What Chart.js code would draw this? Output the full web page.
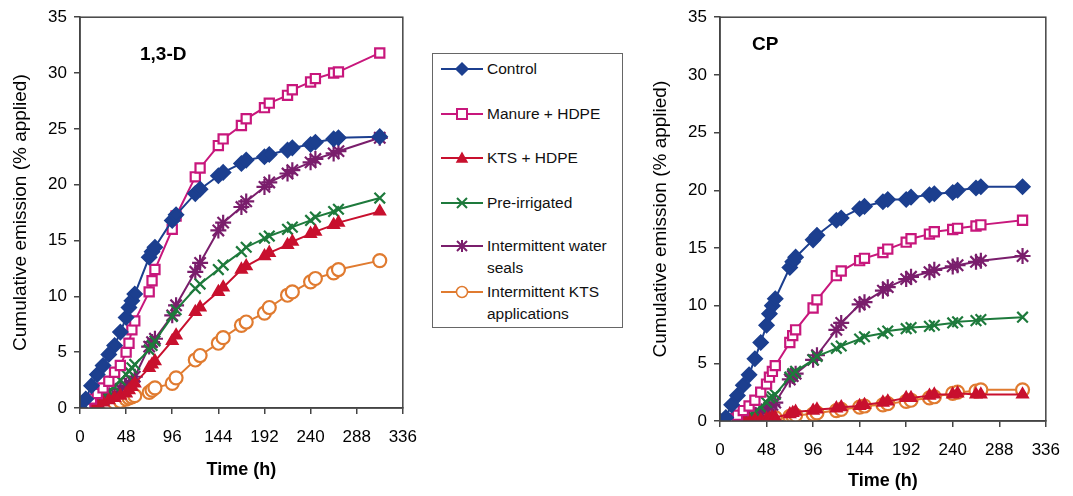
<!DOCTYPE html>
<html>
<head>
<meta charset="utf-8">
<title>Cumulative emission</title>
<script src="https://cdn.jsdelivr.net/npm/chart.js"></script>
<style>
  body { margin: 0; background: #fff; font-family: "Liberation Sans", Arial, sans-serif; }
  #wrap { position: relative; width: 1073px; height: 496px; }
  canvas { position: absolute; top: 0; }
  #legend { position: absolute; left: 432px; top: 53px; width: 191px; height: 275px;
            border: 1px solid #666; box-sizing: border-box; font-size: 15.5px; color: #111; }
  .item { position: absolute; left: 8px; display: flex; align-items: flex-start; line-height: 22px; }
  .item svg { flex: none; margin-top: 3px; margin-right: 4px; }
</style>
</head>
<body>
<div id="wrap">
  <canvas id="left" width="430" height="496" style="left:0"></canvas>
  <canvas id="right" width="433" height="496" style="left:640px"></canvas>
  <div id="legend"></div>
</div>

<script>
// sampling times (h), shared by every series
var hours = [0, 6, 12, 18, 24, 30, 36, 42, 48, 51, 54, 57, 72, 75, 78, 96, 100,
             120, 125, 144, 149, 168, 173, 192, 197, 216, 221, 240, 245, 264, 269, 312];

var seriesNames = ['Control', 'Manure + HDPE', 'KTS + HDPE', 'Pre-irrigated',
                   'Intermittent water seals', 'Intermittent KTS applications'];

// 1,3-D panel (% applied)
var control13D = [0, 0.8, 2.0, 3.0, 3.8, 4.8, 5.6, 6.8, 8.1, 9.0, 9.6, 10.2, 13.5, 14.0, 14.4, 16.8, 17.3,
                  19.2, 19.6, 20.8, 21.1, 21.9, 22.2, 22.5, 22.7, 23.1, 23.3, 23.6, 23.8, 24.1, 24.2, 24.3];
var manure13D = [0, 0.3, 0.8, 1.3, 1.8, 2.4, 3.2, 3.8, 5.0, 5.8, 7.0, 7.8, 10.4, 11.4, 12.4, 16.0, 17.2,
                 20.7, 21.5, 23.5, 24.1, 25.3, 25.9, 26.9, 27.3, 28.0, 28.5, 29.2, 29.5, 30.0, 30.1, 31.8];
var kts13D = [0, 0.1, 0.2, 0.3, 0.5, 0.7, 0.9, 1.1, 1.3, 1.6, 1.9, 2.2, 3.6, 3.9, 4.2, 6.0, 6.5,
              8.6, 9.0, 10.4, 10.8, 12.4, 12.7, 13.6, 13.9, 14.6, 14.9, 15.6, 15.8, 16.4, 16.6, 17.6];
var preIrr13D = [0, 0.2, 0.5, 0.8, 1.1, 1.5, 1.9, 2.5, 3.0, 3.3, 3.6, 3.9, 5.2, 5.6, 6.0, 8.2, 8.8,
                 10.7, 11.1, 12.4, 12.8, 14.0, 14.4, 15.2, 15.4, 16.0, 16.2, 16.8, 17.1, 17.6, 17.8, 18.8];
var seals13D = [0, 0.1, 0.3, 0.5, 0.8, 1.0, 1.3, 1.7, 2.0, 2.2, 2.4, 2.8, 5.5, 5.9, 6.2, 8.3, 9.2,
                12.2, 13.0, 15.9, 16.6, 18.0, 18.5, 19.8, 20.2, 21.0, 21.3, 22.0, 22.3, 22.8, 23.0, 24.2];
var intKts13D = [0, 0.05, 0.1, 0.2, 0.3, 0.4, 0.5, 0.6, 0.8, 0.9, 1.0, 1.1, 1.4, 1.6, 1.8, 2.2, 2.7,
                 4.3, 4.7, 5.8, 6.3, 7.4, 7.7, 8.5, 9.0, 10.1, 10.4, 11.3, 11.6, 12.1, 12.4, 13.2];

// CP panel (% applied)
var controlCP = [0, 0.3, 1.4, 2.2, 3.1, 4.0, 5.4, 6.8, 8.3, 9.3, 10.0, 10.6, 13.3, 13.8, 14.2, 15.7, 16.1,
                 17.4, 17.6, 18.4, 18.6, 19.0, 19.2, 19.2, 19.4, 19.6, 19.7, 19.8, 20.0, 20.2, 20.3, 20.3];
var manureCP = [0, 0.05, 0.2, 0.5, 0.9, 1.3, 1.8, 2.5, 3.2, 3.8, 4.3, 4.8, 6.8, 7.4, 7.9, 9.8, 10.5,
                12.6, 13.0, 13.9, 14.1, 14.6, 14.9, 15.5, 15.8, 16.2, 16.4, 16.6, 16.7, 16.9, 17.0, 17.4];
var ktsCP = [0, 0, 0, 0, 0.05, 0.05, 0.1, 0.1, 0.2, 0.2, 0.3, 0.3, 0.6, 0.7, 0.8, 0.9, 1.0,
             1.1, 1.2, 1.3, 1.4, 1.6, 1.7, 2.0, 2.0, 2.2, 2.3, 2.3, 2.4, 2.3, 2.3, 2.3];
var preIrrCP = [0, 0, 0.05, 0.2, 0.3, 0.5, 0.8, 1.2, 1.6, 2.0, 2.1, 2.3, 3.8, 4.1, 4.3, 5.3, 5.6,
                6.3, 6.5, 7.1, 7.3, 7.6, 7.8, 8.0, 8.1, 8.2, 8.3, 8.5, 8.6, 8.7, 8.8, 9.0];
var sealsCP = [0, 0, 0.05, 0.1, 0.2, 0.3, 0.5, 0.7, 1.0, 1.2, 1.4, 1.6, 3.6, 3.9, 4.1, 5.3, 5.7,
               7.9, 8.5, 10.1, 10.3, 11.3, 11.6, 12.3, 12.5, 12.9, 13.1, 13.4, 13.5, 13.8, 13.9, 14.3];
var intKtsCP = [0, 0, 0, 0, 0, 0, 0.05, 0.1, 0.2, 0.25, 0.3, 0.3, 0.4, 0.45, 0.5, 0.6, 0.7,
                0.9, 1.0, 1.2, 1.3, 1.4, 1.5, 1.7, 1.8, 2.0, 2.1, 2.4, 2.5, 2.6, 2.7, 2.7];

var xTicks = [0, 48, 96, 144, 192, 240, 288, 336];
var yTicks = [0, 5, 10, 15, 20, 25, 30, 35];

// look of each series: colour, marker, filled?
var styles = [
  { color: '#1c3f8f', shape: 'rectRot', r: 7, fill: true },
  { color: '#c8177c', shape: 'rect', r: 6.5, fill: false },
  { color: '#c8102e', shape: 'triangle', r: 6, fill: true },
  { color: '#1e7a3c', shape: 'crossRot', r: 7.5, fill: false },
  { color: '#7a1e6c', shape: 'star', r: 8, fill: false },
  { color: '#e07b30', shape: 'circle', r: 6.5, fill: false }
];

function makeDatasets(lists) {
  return lists.map(function (vals, i) {
    var s = styles[i];
    return {
      label: seriesNames[i],
      data: hours.map(function (h, j) { return { x: h, y: vals[j] }; }),
      showLine: true,
      borderColor: s.color,
      borderWidth: 2,
      pointStyle: s.shape,
      pointRadius: s.r,
      pointBorderWidth: 2.2,
      pointBorderColor: s.color,
      pointBackgroundColor: s.fill ? s.color : '#fff'
    };
  });
}

// frame round the plot area plus the panel label
var framePlugin = {
  id: 'frame',
  afterDraw: function (chart, args, opts) {
    var a = chart.chartArea, c = chart.ctx;
    c.save();
    c.strokeStyle = '#444';
    c.lineWidth = 1.5;
    c.strokeRect(a.left, a.top, a.right - a.left, a.bottom - a.top);
    c.fillStyle = '#000';
    c.font = 'bold 19px "Liberation Sans", Arial, sans-serif';
    c.textBaseline = 'middle';
    c.fillText(opts.text, opts.x, opts.y);
    c.restore();
  }
};

function makeChart(id, lists, cfg) {
  var fontFam = '"Liberation Sans", Arial, sans-serif';
  return new Chart(document.getElementById(id), {
    type: 'scatter',
    data: { datasets: makeDatasets(lists) },
    plugins: [framePlugin],
    options: {
      responsive: false,
      animation: false,
      layout: { padding: { left: 0, right: cfg.padRight, top: 16, bottom: 0 } },
      plugins: {
        legend: { display: false },
        tooltip: { enabled: false },
        frame: { text: cfg.label, x: cfg.labelX, y: cfg.labelY }
      },
      scales: {
        x: {
          type: 'linear', min: 0, max: 336,
          afterBuildTicks: function (s) { s.ticks = xTicks.map(function (v) { return { value: v }; }); },
          afterFit: function (s) { s.height = cfg.xHeight; },
          grid: { drawOnChartArea: false, tickLength: 6, color: '#444', lineWidth: 1.5 },
          border: { display: true, color: '#444', width: 1.5 },
          ticks: { color: '#000', padding: 13, font: { family: fontFam, size: 17 } },
          title: { display: true, text: 'Time (h)', color: '#000',
                   padding: { top: 0, bottom: cfg.xTitlePad },
                   font: { family: fontFam, size: 18, weight: 'bold' } }
        },
        y: {
          min: 0, max: 35,
          afterBuildTicks: function (s) { s.ticks = yTicks.map(function (v) { return { value: v }; }); },
          afterFit: function (s) { s.width = 80; },
          grid: { drawOnChartArea: false, tickLength: 6, color: '#444', lineWidth: 1.5 },
          border: { display: true, color: '#444', width: 1.5 },
          ticks: { color: '#000', padding: 7, font: { family: fontFam, size: 17 } },
          title: { display: true, text: 'Cumulative emission (% applied)', color: '#000',
                   padding: { top: 9, bottom: 0 },
                   font: { family: fontFam, size: 19 } }
        }
      }
    }
  });
}

makeChart('left', [control13D, manure13D, kts13D, preIrr13D, seals13D, intKts13D],
  { padRight: 12, xHeight: 88, xTitlePad: 15, label: '1,3-D', labelX: 140, labelY: 55 });
makeChart('right', [controlCP, manureCP, ktsCP, preIrrCP, sealsCP, intKtsCP],
  { padRight: 24, xHeight: 75, xTitlePad: 4, label: 'CP', labelX: 112, labelY: 45 });

// legend box between the panels
var legendLines = [['Control'], ['Manure + HDPE'], ['KTS + HDPE'], ['Pre-irrigated'],
                   ['Intermittent water', 'seals'], ['Intermittent KTS', 'applications']];
var legendTops = [4, 49, 93, 138, 181, 227];

function markerSvg(s) {
  var c = s.color, f = s.fill ? c : '#fff', m = '';
  if (s.shape === 'rectRot') m = '<polygon points="21,2 27,8 21,14 15,8" fill="' + f + '" stroke="' + c + '" stroke-width="1.5"/>';
  if (s.shape === 'rect') m = '<rect x="16" y="3" width="10" height="10" fill="' + f + '" stroke="' + c + '" stroke-width="2"/>';
  if (s.shape === 'triangle') m = '<polygon points="21,3 26,12 16,12" fill="' + f + '" stroke="' + c + '" stroke-width="1.5"/>';
  if (s.shape === 'crossRot') m = '<path d="M16,3 L26,13 M26,3 L16,13" stroke="' + c + '" stroke-width="2"/>';
  if (s.shape === 'star') m = '<path d="M16,3 L26,13 M26,3 L16,13 M21,2 L21,14 M15,8 L27,8" stroke="' + c + '" stroke-width="2"/>';
  if (s.shape === 'circle') m = '<circle cx="21" cy="8" r="5.5" fill="' + f + '" stroke="' + c + '" stroke-width="1.5"/>';
  return '<svg width="42" height="16"><line x1="0" y1="8" x2="42" y2="8" stroke="' + c + '" stroke-width="2"/>' + m + '</svg>';
}

var legend = document.getElementById('legend');
legendLines.forEach(function (lines, i) {
  var d = document.createElement('div');
  d.className = 'item';
  d.style.top = legendTops[i] + 'px';
  d.innerHTML = markerSvg(styles[i]) + '<span>' + lines.join('<br>') + '</span>';
  legend.appendChild(d);
});
</script>
</body>
</html>
